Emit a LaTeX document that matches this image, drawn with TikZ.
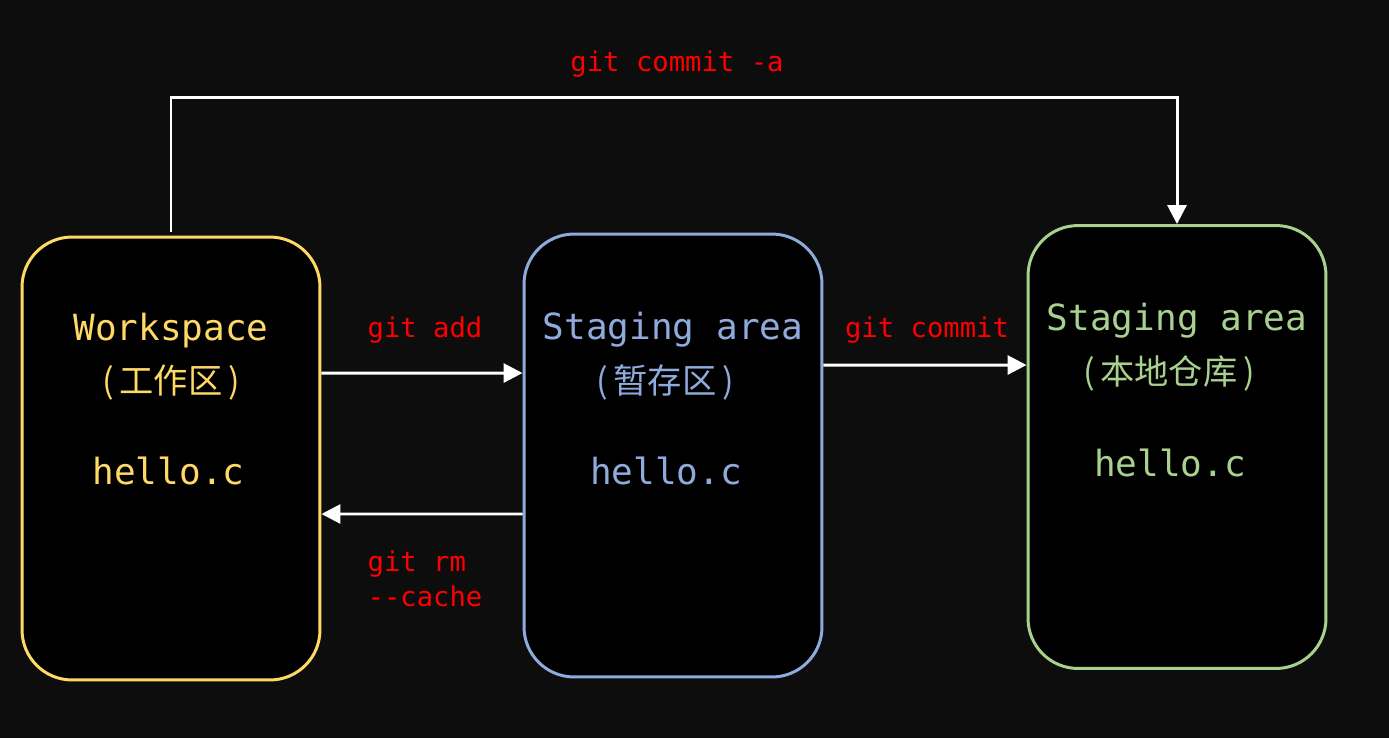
\documentclass[tikz,border=0pt]{standalone}
\usepackage{fontspec}
\newfontfamily\monofont{DejaVu Sans Mono}
\newfontfamily\cjkfont{Noto Sans CJK SC}
\usetikzlibrary{arrows.meta, calc}
\definecolor{bg}{HTML}{0D0D0D}
\definecolor{wsyellow}{HTML}{FFD966}
\definecolor{sablue}{HTML}{8FAADC}
\definecolor{lrgreen}{HTML}{A9D18E}
\definecolor{cmdred}{HTML}{FF0000}

\begin{document}
\begin{tikzpicture}[x=0.02cm, y=-0.02cm,
	area/.style={draw=#1, fill=black, line width=1.7pt, rounded corners=1cm,
		minimum width=5.96cm, minimum height=8.86cm},
	title/.style={text=#1, font=\monofont\fontsize{20.5}{24}\selectfont},
	subtitle/.style={text=#1, font=\cjkfont\fontsize{19.5}{24}\selectfont},
	cmd/.style={text=cmdred, font=\monofont\fontsize{15.5}{19.9}\selectfont},
	flow/.style={draw=white, line width=1.7pt, -{Triangle[length=0.38cm, width=0.38cm]}},
	]
	\useasboundingbox[fill=bg] (0,0) rectangle (1389,738);
	\node[area=wsyellow] (ws) at (171,458.5) {};
	\node[area=sablue] (sa) at (673,455.5) {};
	\node[area=lrgreen] (lr) at (1177,447) {};

	\node[title=wsyellow] (wsname) at ([yshift=-1.9cm]ws.north) {Workspace};
	\node[subtitle=wsyellow] (wscn) at ([yshift=-2.94cm]ws.north) {(\,工作区\,)};
	\node[title=wsyellow] (wsfile) at ([xshift=-0.05cm, yshift=-4.7cm]ws.north) {hello.c};

	\node[title=sablue] (saname) at ([yshift=-1.94cm]sa.north) {Staging area};
	\node[subtitle=sablue] (sacn) at ([xshift=-0.16cm, yshift=-3cm]sa.north) {(\,暂存区\,)};
	\node[title=sablue] (safile) at ([xshift=-0.14cm, yshift=-4.76cm]sa.north) {hello.c};

	\node[title=lrgreen] (lrname) at ([yshift=-1.94cm]lr.north) {Staging area};
	\node[subtitle=lrgreen] (lrcn) at ([xshift=-0.16cm, yshift=-2.98cm]lr.north) {(\,本地仓库\,)};
	\node[title=lrgreen] (lrfile) at ([xshift=-0.14cm, yshift=-4.78cm]lr.north) {hello.c};

	\draw[flow] ([yshift=1.71cm]ws.east) -- ([yshift=1.65cm]sa.west);
	\draw[flow] ([yshift=-1.17cm]sa.west) -- ([yshift=-1.11cm]ws.east);
	\draw[flow] ([yshift=1.81cm]sa.east) -- ([yshift=1.64cm]lr.west);
	\draw[flow] ([yshift=0.08cm]ws.north) -- ++(0,-134) -| (lr.north);

	\node[cmd] (add) at (425,330) {git add};
	\node[cmd, align=left] (rm) at (425,579) {git rm\\--cache};
	\node[cmd] (commit) at (927,330) {git commit};
	\node[cmd] (commita) at (677,64) {git commit -a};
\end{tikzpicture}
\end{document}
